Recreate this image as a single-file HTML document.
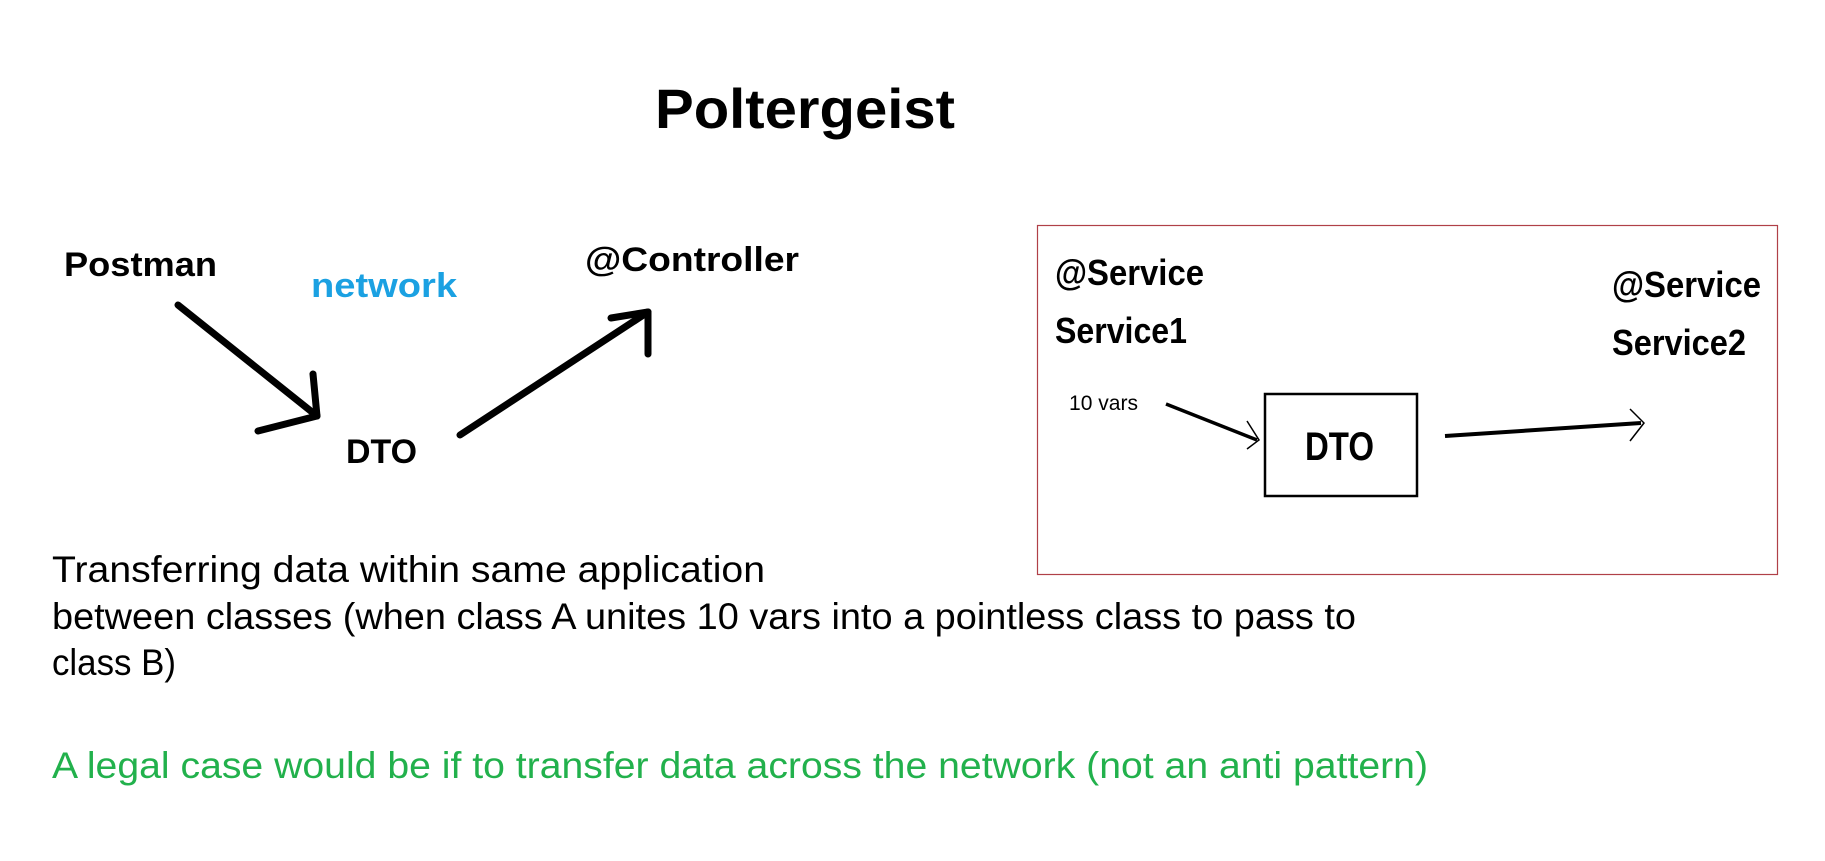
<!DOCTYPE html>
<html><head><meta charset="utf-8"><style>
html,body{margin:0;padding:0;background:#fff;}
svg{display:block;}
text{font-family:"Liberation Sans",sans-serif;}
</style></head><body>
<svg width="1825" height="861" viewBox="0 0 1825 861" xmlns="http://www.w3.org/2000/svg">
<text x="655" y="128" font-size="56" font-weight="bold" textLength="300" lengthAdjust="spacingAndGlyphs">Poltergeist</text>
<text x="64" y="276" font-size="34" font-weight="bold" textLength="153" lengthAdjust="spacingAndGlyphs">Postman</text>
<text x="311" y="297" font-size="34" font-weight="bold" fill="#1ba1e2" textLength="146" lengthAdjust="spacingAndGlyphs">network</text>
<text x="585" y="271" font-size="34" font-weight="bold" textLength="214" lengthAdjust="spacingAndGlyphs">@Controller</text>
<text x="346" y="463" font-size="34" font-weight="bold" textLength="71" lengthAdjust="spacingAndGlyphs">DTO</text>
<g stroke="#000" stroke-width="7" stroke-linecap="round" fill="none">
<line x1="178" y1="305" x2="317" y2="416"/>
<line x1="313" y1="374" x2="317" y2="416"/>
<line x1="258" y1="431" x2="317" y2="416"/>
<line x1="460" y1="435" x2="648" y2="312"/>
<line x1="611" y1="318" x2="648" y2="312"/>
<line x1="648" y1="312" x2="648" y2="354"/>
</g>
<rect x="1037.5" y="225.5" width="740" height="349" fill="none" stroke="#b04048" stroke-width="1.2"/>
<text x="1055" y="285" font-size="36" font-weight="bold" textLength="149" lengthAdjust="spacingAndGlyphs">@Service</text>
<text x="1055" y="343" font-size="36" font-weight="bold" textLength="132" lengthAdjust="spacingAndGlyphs">Service1</text>
<text x="1612" y="297" font-size="36" font-weight="bold" textLength="149" lengthAdjust="spacingAndGlyphs">@Service</text>
<text x="1612" y="355" font-size="36" font-weight="bold" textLength="134" lengthAdjust="spacingAndGlyphs">Service2</text>
<text x="1069" y="410" font-size="21" textLength="69" lengthAdjust="spacingAndGlyphs">10 vars</text>
<g stroke="#000" fill="none">
<line x1="1166" y1="404" x2="1257" y2="440" stroke-width="3.5"/>
<polyline points="1247,421 1259,440 1247,449" stroke-width="1.5"/>
<rect x="1265" y="394" width="152" height="102" stroke-width="2.5"/>
<line x1="1445" y1="436" x2="1641" y2="423" stroke-width="4"/>
<polyline points="1630,409 1644,423 1630,441" stroke-width="1.5"/>
</g>
<text x="1305" y="460" font-size="40" font-weight="bold" textLength="69" lengthAdjust="spacingAndGlyphs">DTO</text>
<g font-size="37">
<text x="52" y="582" textLength="713" lengthAdjust="spacingAndGlyphs">Transferring data within same application</text>
<text x="52" y="629" textLength="1304" lengthAdjust="spacingAndGlyphs">between classes (when class A unites 10 vars into a pointless class to pass to</text>
<text x="52" y="675" textLength="124" lengthAdjust="spacingAndGlyphs">class B)</text>
<text x="52" y="778" fill="#22b14c" textLength="1376" lengthAdjust="spacingAndGlyphs">A legal case would be if to transfer data across the network (not an anti pattern)</text>
</g>
</svg>
</body></html>
